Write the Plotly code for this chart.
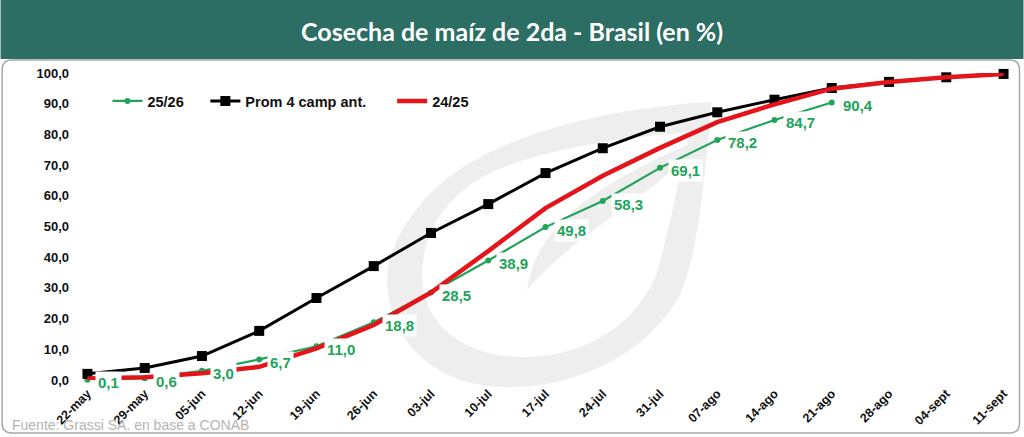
import plotly.graph_objects as go

# ---------------- data ----------------
categories = ["22-may", "29-may", "05-jun", "12-jun", "19-jun", "26-jun", "03-jul",
              "10-jul", "17-jul", "24-jul", "31-jul", "07-ago", "14-ago", "21-ago",
              "28-ago", "04-sept", "11-sept"]
serie_2526 = [0.1, 0.6, 3.0, 6.7, 11.0, 18.8, 28.5, 38.9, 49.8, 58.3, 69.1, 78.2,
              84.7, 90.4, None, None, None]
serie_prom4 = [2.0, 3.9, 7.8, 16.0, 26.7, 37.1, 47.9, 57.3, 67.4, 75.5, 82.5, 87.2,
               91.3, 95.1, 97.1, 98.6, 99.7]
serie_2425 = [0.5, 0.9, 2.2, 4.3, 10.3, 17.9, 28.5, 42.0, 56.0, 66.5, 75.6, 84.0,
              89.8, 94.9, 97.1, 98.6, 99.7]
y_ticks = [0, 10, 20, 30, 40, 50, 60, 70, 80, 90, 100]
y_ticklabels = ["0,0", "10,0", "20,0", "30,0", "40,0", "50,0", "60,0", "70,0",
                "80,0", "90,0", "100,0"]
names = ["25/26", "Prom 4 camp ant.", "24/25"]

# ---------------- layout geometry ----------------
W, H = 1024, 437
L, R, T, B = 75.5, 8.5, 73, 57
PW, PH = W - L - R, H - T - B

GREEN = "#22A35A"
TEAL = "#2C6E63"
WM = "#EEEEEE"


def px(x):
    return (x - L) / PW


def py(y):
    return 1 - (y - T) / PH


def P(x, y):
    return f"{px(x):.5f},{py(y):.5f}"


x_idx = list(range(len(categories)))

fig = go.Figure()
fig.add_trace(go.Scatter(x=x_idx, y=serie_2526, name=names[0], mode="lines+markers",
                         line=dict(color=GREEN, width=2.2),
                         marker=dict(symbol="circle", size=6, color=GREEN),
                         cliponaxis=False, legend="legend"))
fig.add_trace(go.Scatter(x=x_idx, y=serie_prom4, name=names[1], mode="lines+markers",
                         line=dict(color="#000000", width=3),
                         marker=dict(symbol="square", size=10, color="#000000"),
                         cliponaxis=False, legend="legend2"))
fig.add_trace(go.Scatter(x=x_idx, y=serie_2425, name=names[2], mode="lines",
                         line=dict(color="#E3151A", width=4.5),
                         cliponaxis=False, legend="legend3"))

annotations = []
for i, v in enumerate(serie_2526):
    if v is None:
        continue
    annotations.append(dict(
        x=i, y=v, xref="x", yref="y", text=f"{v:.1f}".replace(".", ","),
        showarrow=False, xanchor="left", yanchor="middle", xshift=8, yshift=-3,
        bgcolor="white", borderpad=2,
        font=dict(family="Liberation Sans, Arial", size=15, color=GREEN, weight="bold")))

# title
annotations.append(dict(
    x=px(512), y=py(31), xref="paper", yref="paper", text="<b>Cosecha de maíz de 2da - Brasil (en %)</b>",
    showarrow=False, xanchor="center", yanchor="middle",
    font=dict(family="Lato, Carlito, sans-serif", size=25, color="white")))
# source
annotations.append(dict(
    x=px(9), y=py(425), xref="paper", yref="paper", text="Fuente: Grassi SA. en base a CONAB",
    showarrow=False, xanchor="left", yanchor="middle",
    font=dict(family="Liberation Sans, Arial", size=14, color="#B4B4B4")))

shapes = []
# panel border with rounded corners
x0, y0, x1, y1, r = 1.5, 60, 1020, 433, 10
panel = (f"M {P(x0 + r, y0)} L {P(x1 - r, y0)} Q {P(x1, y0)} {P(x1, y0 + r)} "
         f"L {P(x1, y1 - r)} Q {P(x1, y1)} {P(x1 - r, y1)} L {P(x0 + r, y1)} "
         f"Q {P(x0, y1)} {P(x0, y1 - r)} L {P(x0, y0 + r)} Q {P(x0, y0)} {P(x0 + r, y0)} Z")
shapes.append(dict(type="path", xref="paper", yref="paper", path=panel,
                   line=dict(color="#A8A8A8", width=1.5), fillcolor="white", layer="below"))
# title bar
shapes.append(dict(type="rect", xref="paper", yref="paper", x0=px(0), x1=px(W), y0=py(0), y1=py(59),
                   line=dict(width=0), fillcolor=TEAL, layer="below"))

# watermark (teardrop ring + inner leaf)
ring = (f"M {P(712,102)} C {P(600,108)} {P(470,140)} {P(420,205)} "
        f"C {P(395,235)} {P(386,260)} {P(387,285)} "
        f"C {P(390,345)} {P(440,385)} {P(500,387)} "
        f"C {P(580,390)} {P(650,350)} {P(680,295)} "
        f"C {P(700,250)} {P(705,170)} {P(712,102)} Z "
        f"M {P(690,132)} C {P(620,138)} {P(520,150)} {P(470,185)} "
        f"C {P(435,210)} {P(421,245)} {P(422,280)} "
        f"C {P(425,330)} {P(470,356)} {P(520,357)} "
        f"C {P(590,358)} {P(640,320)} {P(658,270)} "
        f"C {P(672,220)} {P(680,170)} {P(690,132)} Z")
shapes.append(dict(type="path", xref="paper", yref="paper", path=ring, fillrule="evenodd",
                   line=dict(width=0), fillcolor=WM, layer="below"))
leaf = (f"M {P(527,290)} C {P(535,230)} {P(590,185)} {P(700,140)} "
        f"C {P(665,190)} {P(580,228)} {P(527,290)} Z")
shapes.append(dict(type="path", xref="paper", yref="paper", path=leaf,
                   line=dict(width=0), fillcolor=WM, layer="below"))

legend_font = dict(family="Liberation Sans, Arial", size=14.5, color="#111111", weight="bold")
leg_common = dict(orientation="h", xanchor="left", yanchor="middle", bgcolor="rgba(0,0,0,0)",
                  font=legend_font, itemwidth=30, borderwidth=0, tracegroupgap=0)

fig.update_layout(
    width=W, height=H,
    margin=dict(l=L, r=R, t=T, b=B, autoexpand=False),
    paper_bgcolor="white", plot_bgcolor="rgba(0,0,0,0)",
    showlegend=True,
    legend=dict(x=px(107), y=py(101), **leg_common),
    legend2=dict(x=px(205), y=py(101), **leg_common),
    legend3=dict(x=px(392), y=py(101), **leg_common),
    xaxis=dict(range=[-0.2, 16.2], tickmode="array", tickvals=x_idx, ticktext=categories,
               tickangle=-45, showgrid=False, zeroline=False, showline=False, ticks="",
               automargin=False, ticklabelstandoff=3,
               tickfont=dict(family="Liberation Sans, Arial", size=12.5, color="#111111", weight="bold")),
    yaxis=dict(range=[0, 100], tickmode="array", tickvals=y_ticks, ticktext=y_ticklabels,
               showgrid=False, zeroline=False, showline=False, ticks="", ticklabelstandoff=6,
               automargin=False,
               tickfont=dict(family="Liberation Sans, Arial", size=13, color="#111111", weight="bold")),
    annotations=annotations, shapes=shapes,
)

fig.write_html("out.html", config={"displayModeBar": False},
               post_script="document.body.style.margin='0px';document.body.style.overflow='hidden';")
